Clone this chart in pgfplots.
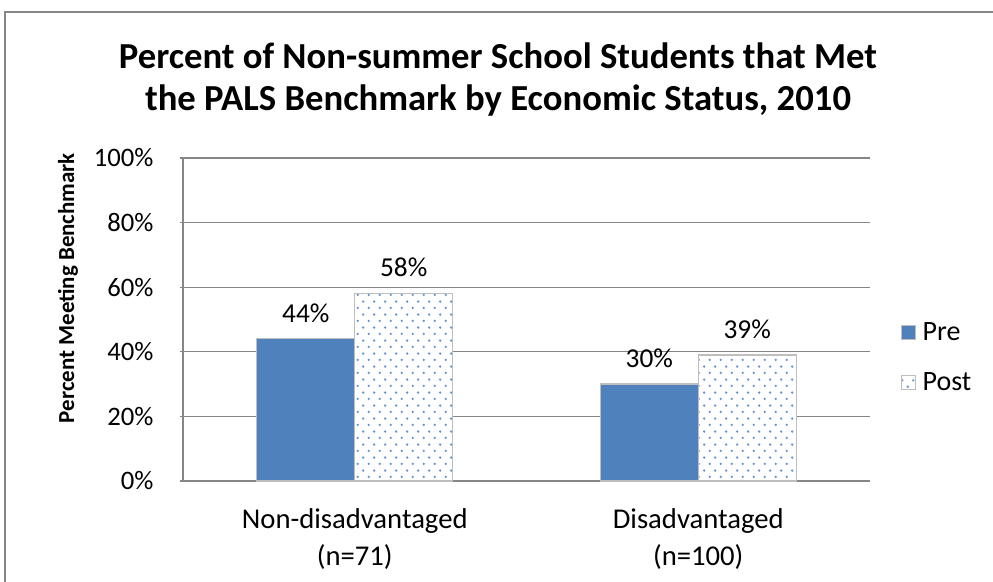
\documentclass[border=0pt]{standalone}
\usepackage{pgfplots}
\pgfplotsset{compat=1.18}
\usepackage{fontspec}
\setmainfont{Carlito}
\usetikzlibrary{patterns.meta}
\definecolor{preblue}{RGB}{79,129,189}
\definecolor{dotblue}{RGB}{100,145,210}
\definecolor{gridgray}{RGB}{134,134,134}
\definecolor{edgegray}{RGB}{190,190,190}
\tikzdeclarepattern{
  name=mydots,
  type=uncolored,
  bounding box={(0pt,0pt) and (8.6pt,9.6pt)},
  tile size={(8.6pt,9.6pt)},
  code={
    \fill (2.15pt,2.4pt) circle (1pt);
    \fill (6.45pt,7.2pt) circle (1pt);
  }
}
\begin{document}
\begin{tikzpicture}
\begin{scope}[x=0.75pt,y=0.75pt]
\useasboundingbox (0,0) rectangle (993,582);
\draw[gridgray, line width=1.2pt] (5,0) -- (5,570) -- (993,570);
\node[font=\fontsize{27.5}{32.2}\selectfont\bfseries, align=center] at (498,502.5)
  {Percent of Non-summer School Students that Met\\the PALS Benchmark by Economic Status, 2010};
\node[font=\fontsize{17.2}{20}\selectfont\bfseries, rotate=90] at (68,294) {Percent Meeting Benchmark};
\end{scope}
\begin{axis}[
  at={(137.25pt,75.75pt)}, anchor=south west,
  scale only axis,
  width=515.25pt, height=242.25pt,
  xmin=-0.5, xmax=1.5,
  ymin=0, ymax=100,
  ytick={0,20,40,60,80,100},
  yticklabels={0\%,20\%,40\%,60\%,80\%,100\%},
  xtick={0,1},
  xticklabels={{Non-disadvantaged\\(n=71)},{Disadvantaged\\(n=100)}},
  xticklabel style={align=center, font=\fontsize{21.5}{27.75}\selectfont, yshift=-12pt},
  yticklabel style={font=\fontsize{20}{22}\selectfont, xshift=-16pt},
  /pgf/number format/assume math mode=true,
  major x tick style={draw=none},
  tick align=outside,
  major tick length=5.25pt,
  ytick style={gridgray, line width=0.8pt},
  axis x line=bottom, axis y line=left,
  axis line style={gridgray, line width=0.8pt, -},
  ymajorgrids, grid style={gridgray, line width=0.8pt},
  ybar=0pt, bar width=0.285,
  nodes near coords={\pgfmathprintnumber{\pgfplotspointmeta}\%},
  every node near coord/.append style={anchor=center, yshift=19.5pt, font=\fontsize{20.5}{22}\selectfont, black},
  legend style={at={(1,0.382)}, anchor=west, xshift=20pt, draw=none, fill=none,
    font=\fontsize{21}{23}\selectfont, row sep=19pt, cells={anchor=west},
    nodes={inner xsep=5pt}},
  legend image code/.code={\draw[#1, draw=edgegray, line width=0.8pt] (0pt,-5.25pt) rectangle (10.5pt,5.25pt);},
  clip=false,
]
\addplot[fill=preblue, draw=edgegray, line width=0.9pt] coordinates {(0,44) (1,30)};
\addlegendentry{Pre}
\addplot[fill=white, draw=edgegray, line width=0.9pt, postaction={pattern=mydots, pattern color=dotblue}] coordinates {(0,58) (1,39)};
\addlegendentry{Post}
\end{axis}
\end{tikzpicture}
\end{document}
